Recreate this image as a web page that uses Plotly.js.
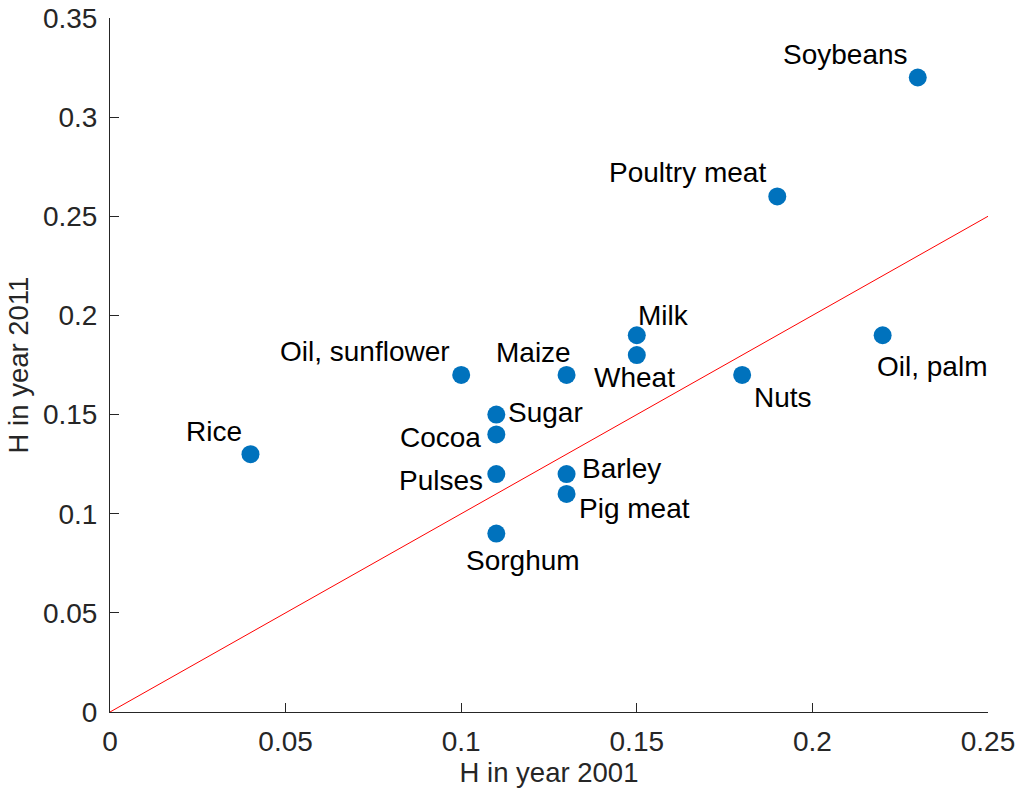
<!DOCTYPE html>
<html>
<head>
<meta charset="utf-8">
<script src="https://cdn.plot.ly/plotly-3.0.1.min.js"></script>
<style>html,body{margin:0;padding:0;background:#fff;}#chart{width:1018px;height:792px;}</style>
</head>
<body>
<div id="chart"></div>
<script>
const products = ["Soybeans","Poultry meat","Milk","Wheat","Oil, palm","Nuts","Maize","Oil, sunflower","Sugar","Cocoa","Pulses","Barley","Pig meat","Sorghum","Rice"];
const h2001 = [0.23,0.19,0.15,0.15,0.22,0.18,0.13,0.10,0.11,0.11,0.11,0.13,0.13,0.11,0.04];
const h2011 = [0.32,0.26,0.19,0.18,0.19,0.17,0.17,0.17,0.15,0.14,0.12,0.12,0.11,0.09,0.13];
const xTicks = [0,0.05,0.1,0.15,0.2,0.25];
const xTickText = ["0","0.05","0.1","0.15","0.2","0.25"];
const yTicks = [0,0.05,0.1,0.15,0.2,0.25,0.3,0.35];
const yTickText = ["0","0.05","0.1","0.15","0.2","0.25","0.3","0.35"];
const refLineX = [0,0.25];
const refLineY = [0,0.25];

// label placement (style): [xanchor, xshift, yshift]
const labelPlacement = {
  "Soybeans":["right",-8,23],
  "Poultry meat":["right",-9,24],
  "Milk":["left",-1,20],
  "Wheat":["center",-2,-22],
  "Oil, palm":["left",-8,-31],
  "Nuts":["left",10,-23],
  "Maize":["right",6,22],
  "Oil, sunflower":["right",-9,23],
  "Sugar":["left",10,2],
  "Cocoa":["right",-13,-3],
  "Pulses":["right",-11,-6],
  "Barley":["left",13,6],
  "Pig meat":["left",10,-15],
  "Sorghum":["center",27,-27],
  "Rice":["right",-6,23]
};

const font = "Liberation Sans, Arial, Helvetica, sans-serif";
const axisColor = "#262626";

const traces = [
  {x: refLineX, y: refLineY, mode: "lines", line: {color: "#ff0000", width: 1}, hoverinfo: "skip", showlegend: false},
  {x: h2001, y: h2011, mode: "markers", marker: {color: "#0072BD", size: 18}, text: products, showlegend: false}
];

const annotations = products.map((p, i) => {
  const pl = labelPlacement[p];
  return {x: h2001[i], y: h2011[i], text: p, showarrow: false, xanchor: pl[0], yanchor: "middle",
          xshift: pl[1], yshift: pl[2], font: {family: font, size: 28, color: "#000"}};
});

const axisCommon = {
  showline: true, linecolor: axisColor, linewidth: 1, mirror: false,
  showgrid: false, zeroline: false, ticks: "inside", ticklen: 9, tickwidth: 1, tickcolor: axisColor,
  tickfont: {family: font, size: 28, color: axisColor}, tickmode: "array"
};

const layout = {
  width: 1018, height: 792,
  margin: {l: 110, r: 30, t: 18, b: 80},
  paper_bgcolor: "#fff", plot_bgcolor: "#fff",
  xaxis: Object.assign({}, axisCommon, {range: [0, 0.25], tickvals: xTicks, ticktext: xTickText, ticklabelstandoff: 4,
    title: {text: "H in year 2001", font: {family: font, size: 27.5, color: axisColor}, standoff: 4}}),
  yaxis: Object.assign({}, axisCommon, {range: [0, 0.35], tickvals: yTicks, ticktext: yTickText, ticklabelstandoff: 6,
    title: {text: "H in year 2011", font: {family: font, size: 27.5, color: axisColor}, standoff: 6}}),
  annotations: annotations,
  showlegend: false
};

Plotly.newPlot("chart", traces, layout, {displayModeBar: false, staticPlot: true});
</script>
</body>
</html>
